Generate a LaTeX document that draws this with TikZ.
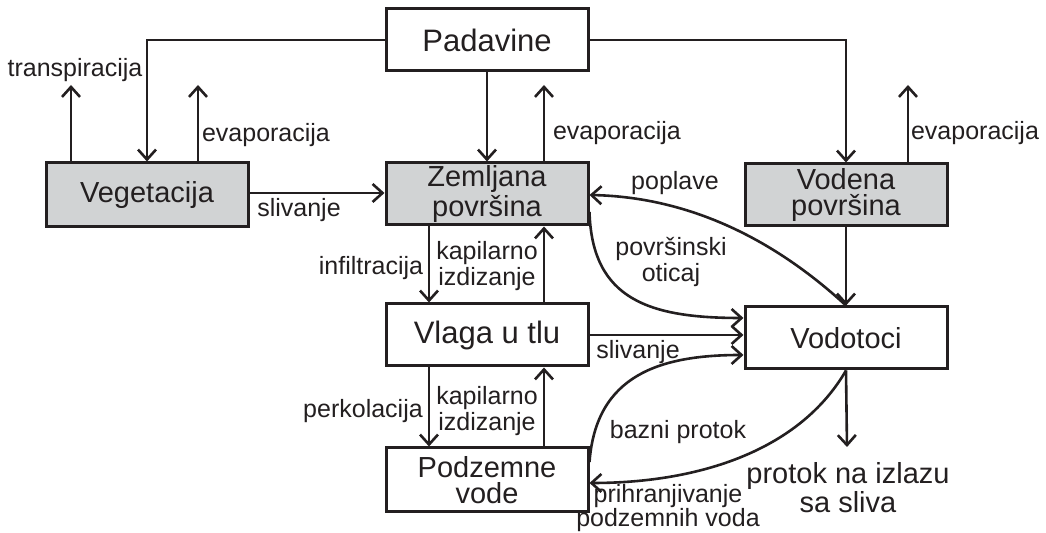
\documentclass[tikz,border=0pt]{standalone}
\usepackage{fontspec}
\setmainfont{Liberation Sans}
\usetikzlibrary{arrows.meta}
\definecolor{ink}{HTML}{231F20}
\definecolor{boxgray}{HTML}{D1D3D4}
\tikzset{
  box/.style={draw=ink, line width=1.5pt, rectangle, minimum width=101pt, minimum height=31pt, inner sep=0pt, align=center, text=ink, font=\fontsize{14.5}{13}\selectfont},
  bigbox/.style={box, font=\fontsize{15.5}{13}\selectfont},
  graybox/.style={box, fill=boxgray},
  lbl/.style={inner sep=0pt, align=center, text=ink, font=\fontsize{12.5}{11.5}\selectfont},
  bigl/.style={inner sep=0pt, align=center, text=ink, font=\fontsize{14.5}{12.8}\selectfont},
  arr/.style={draw=ink, line width=1.3pt, -{Straight Barb[length=5pt,width=9pt]}}
}
\begin{document}
\begin{tikzpicture}[x=0.5pt,y=-0.5pt]
\useasboundingbox (0,0) rectangle (1046,533);
% boxes
\node[bigbox]  (pad) at (487,40)  {Padavine};
\node[graybox, minimum height=32pt] (veg) at (147,195) {Vegetacija};
\node[graybox] (zem) at (487,194) {Zemljana\\površina};
\node[graybox] (vod) at (846,195) {Vodena\\površina};
\node[bigbox]  (vla) at (487,335) {Vlaga u tlu};
\node[box]     (vdt) at (846,338) {Vodotoci};
\node[box, minimum height=32pt] (pod) at (487,480) {Podzemne\\vode};
% free ends
\coordinate (tr) at (71,85);
\coordinate (ev1) at (198,85);
\coordinate (ev2) at (544,85);
\coordinate (ev3) at (908,85);
\coordinate (out) at (847,447);
\coordinate (xl) at (429,0);
\coordinate (xr) at (544,0);
% precipitation
\draw[arr] (pad.west) -| (veg.north);
\draw[arr] (pad.east) -| (vod.north);
\draw[arr] (pad.south) -- (zem.north);
% evaporation / transpiration
\draw[arr] (veg.north -| tr) -- (tr);
\draw[arr] (veg.north -| ev1) -- (ev1);
\draw[arr] (zem.north -| ev2) -- (ev2);
\draw[arr] (vod.north -| ev3) -- (ev3);
% horizontal flows
\draw[arr] (veg.east |- 0,193) -- (zem.west |- 0,193);
\draw[arr] (vla.east) -- (vdt.west |- vla.east);
% vertical flows
\draw[arr] (zem.south -| xl) -- (vla.north -| xl);
\draw[arr] (vla.north -| xr) -- (zem.south -| xr);
\draw[arr] (vla.south -| xl) -- (pod.north -| xl);
\draw[arr] (pod.north -| xr) -- (vla.south -| xr);
\draw[arr] (vod.south) -- (vdt.north);
\draw[arr] (vdt.south) -- (out);
% curved flows
\draw[arr] (vdt.north) .. controls (775,240) and (690,197) .. (zem.east |- 0,195);
\draw[arr] (zem.east |- 0,212) .. controls (592,300) and (650,318) .. (vdt.west |- 0,318);
\draw[arr] (pod.east |- 0,462) .. controls (596,375) and (660,355) .. (vdt.west |- 0,355);
\draw[arr] (vdt.south) .. controls (800,450) and (700,483) .. (pod.east |- 0,483);
% labels
\node[lbl] (l1) at (75,70) {transpiracija};
\node[lbl] (l2) at (266,135) {evaporacija};
\node[lbl] (l3) at (617,133) {evaporacija};
\node[lbl] (l4) at (975,133) {evaporacija};
\node[lbl] (l5) at (299,210) {slivanje};
\node[lbl] (l6) at (675,183) {poplave};
\node[lbl] (l7) at (671,262) {površinski\\oticaj};
\node[lbl] (l8) at (371,268) {infiltracija};
\node[lbl] (l9) at (487,266) {kapilarno\\izdizanje};
\node[lbl] (l10) at (363,411) {perkolacija};
\node[lbl] (l11) at (487,411) {kapilarno\\izdizanje};
\node[lbl] (l12) at (638,352) {slivanje};
\node[lbl] (l13) at (678,432) {bazni protok};
\node[lbl, font=\fontsize{12.5}{12}\selectfont] (l14) at (668,508) {prihranjivanje\\podzemnih voda};
\node[bigl] (l15) at (848,488) {protok na izlazu\\sa sliva};
\end{tikzpicture}
\end{document}
